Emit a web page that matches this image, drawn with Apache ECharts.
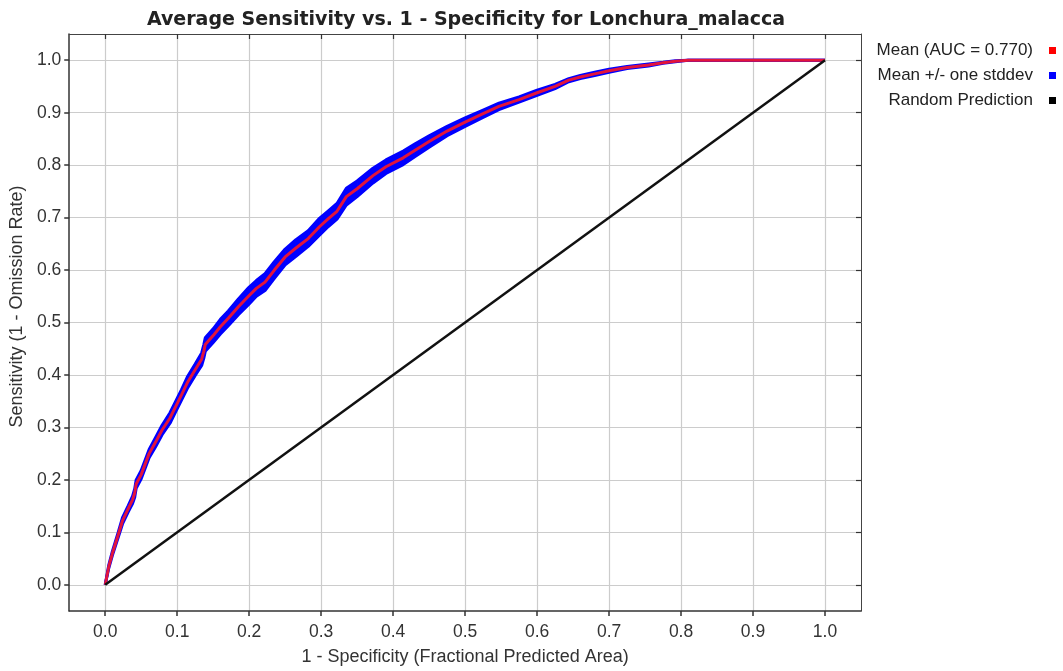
<!DOCTYPE html>
<html>
<head>
<meta charset="utf-8">
<script src="https://cdn.jsdelivr.net/npm/echarts@6/dist/echarts.min.js"></script>
<style>
  html, body { margin: 0; padding: 0; background: #ffffff; }
  #chart { width: 1063px; height: 671px; }
</style>
</head>
<body>
<div id="chart"></div>
<script>
// False positive rate (1 - specificity) sampled along the averaged ROC curve
const fpr = [0, 0.005, 0.010, 0.018, 0.024, 0.032, 0.038, 0.041, 0.043, 0.05,
  0.061, 0.07, 0.079, 0.09, 0.098, 0.106, 0.114, 0.125, 0.134, 0.137,
  0.139, 0.15, 0.16, 0.171, 0.185, 0.199, 0.21, 0.222, 0.235, 0.25,
  0.265, 0.282, 0.298, 0.31, 0.322, 0.335, 0.35, 0.372, 0.39, 0.414,
  0.43, 0.45, 0.475, 0.5, 0.525, 0.547, 0.575, 0.6, 0.625, 0.644,
  0.66, 0.68, 0.7, 0.725, 0.755, 0.775, 0.792, 0.81, 0.85, 0.9, 0.95, 1.0];

// Mean sensitivity (1 - omission rate) at each fpr value
const meanSens = [0, 0.035, 0.06, 0.095, 0.122, 0.145, 0.162, 0.175, 0.192, 0.21,
  0.25, 0.272, 0.295, 0.318, 0.34, 0.362, 0.385, 0.41, 0.43, 0.445,
  0.458, 0.475, 0.492, 0.508, 0.53, 0.55, 0.565, 0.577, 0.6, 0.625,
  0.642, 0.66, 0.683, 0.698, 0.712, 0.74, 0.755, 0.78, 0.797, 0.814,
  0.828, 0.845, 0.865, 0.882, 0.898, 0.912, 0.925, 0.938, 0.95, 0.962,
  0.968, 0.974, 0.98, 0.986, 0.991, 0.995, 0.998, 1.0, 1.0, 1.0, 1.0, 1.0];

// One standard deviation of sensitivity across replicates
const stdDev = [0, 0.003, 0.004, 0.005, 0.006, 0.006, 0.007, 0.008, 0.008, 0.008,
  0.008, 0.009, 0.009, 0.010, 0.010, 0.010, 0.011, 0.011, 0.012, 0.013,
  0.013, 0.013, 0.014, 0.014, 0.015, 0.016, 0.015, 0.016, 0.016, 0.015,
  0.016, 0.015, 0.016, 0.015, 0.015, 0.016, 0.015, 0.014, 0.013, 0.013,
  0.012, 0.011, 0.009, 0.008, 0.007, 0.006, 0.005, 0.005, 0.004, 0.003,
  0.003, 0.003, 0.003, 0.002, 0.002, 0.001, 0.001, 0, 0, 0, 0, 0];

// Random prediction reference line
const randomX = [0, 1];
const randomY = [0, 1];

// Tick positions and their labels, shared by both axes
const tickValues = [0, 0.1, 0.2, 0.3, 0.4, 0.5, 0.6, 0.7, 0.8, 0.9, 1.0];
const tickLabels = ['0.0', '0.1', '0.2', '0.3', '0.4', '0.5', '0.6', '0.7', '0.8', '0.9', '1.0'];

const NAME_MEAN = 'Mean (AUC = 0.770)';
const NAME_SD = 'Mean +/- one stddev';
const NAME_RANDOM = 'Random Prediction';

const upperLine = fpr.map((x, i) => [x, meanSens[i] + stdDev[i]]);
const lowerLine = fpr.map((x, i) => [x, meanSens[i] - stdDev[i]]);
const meanLine = fpr.map((x, i) => [x, meanSens[i]]);
const randomLine = randomX.map((x, i) => [x, randomY[i]]);

// Each band segment joins sample i and i+1: [x0, lo0, hi0, x1, lo1, hi1]
const bandSegments = [];
for (let i = 0; i < fpr.length - 1; i++) {
  bandSegments.push([fpr[i], lowerLine[i][1], upperLine[i][1],
                     fpr[i + 1], lowerLine[i + 1][1], upperLine[i + 1][1]]);
}

const FONT = "'Liberation Sans', Arial, sans-serif";
const SQUARE = 'path://M0,0 M11,0 L18,0 L18,7 L11,7 Z';

function tickFormatter(v) {
  const k = tickValues.findIndex(t => Math.abs(t - v) < 1e-6);
  return k < 0 ? '' : tickLabels[k];
}

const axisCommon = { type: 'value', min: -0.05, max: 1.05, interval: 0.05 };

const chart = echarts.init(document.getElementById('chart'), null, { renderer: 'canvas' });

chart.setOption({
  animation: false,
  backgroundColor: '#ffffff',
  title: {
    text: 'Average Sensitivity vs. 1 - Specificity for Lonchura_malacca',
    left: 461,
    top: 6,
    textAlign: 'center',
    textStyle: {
      fontFamily: "'DejaVu Sans', sans-serif",
      fontWeight: 'bold',
      fontSize: 19,
      color: '#222222'
    }
  },
  legend: {
    orient: 'vertical',
    align: 'right',
    right: 2,
    top: 37,
    itemWidth: 18,
    itemHeight: 7,
    itemGap: 8,
    selectedMode: false,
    textStyle: { fontFamily: FONT, fontSize: 17, color: '#222222', lineHeight: 17 },
    data: [
      { name: NAME_MEAN, icon: SQUARE, itemStyle: { color: '#ff0000' } },
      { name: NAME_SD, icon: SQUARE, itemStyle: { color: '#0000ff' } },
      { name: NAME_RANDOM, icon: SQUARE, itemStyle: { color: '#000000' } }
    ]
  },
  grid: { left: 65, right: 202, top: 34, bottom: 60, containLabel: false },
  xAxis: [
    Object.assign({}, axisCommon, {
      position: 'bottom',
      name: '1 - Specificity (Fractional Predicted Area)',
      nameLocation: 'middle',
      nameGap: 37,
      nameTextStyle: { fontFamily: FONT, fontSize: 18, color: '#333333' },
      axisLine: { show: true, onZero: false, lineStyle: { color: '#333333', width: 1.5 } },
      axisTick: { show: true, inside: false, length: 5, customValues: tickValues,
        lineStyle: { color: '#333333', width: 1.5 } },
      axisLabel: { margin: 12, fontFamily: FONT, fontSize: 17.5, color: '#333333',
        formatter: tickFormatter, customValues: tickValues },
      splitLine: { show: true, customValues: tickValues,
        lineStyle: { color: '#cccccc', width: 1.2 } }
    }),
    Object.assign({}, axisCommon, {
      position: 'top',
      axisLine: { show: true, onZero: false, lineStyle: { color: '#444444', width: 1 } },
      axisTick: { show: true, inside: true, length: 5, customValues: tickValues,
        lineStyle: { color: '#333333', width: 1.2 } },
      axisLabel: { show: false },
      splitLine: { show: false }
    })
  ],
  yAxis: [
    Object.assign({}, axisCommon, {
      position: 'left',
      name: 'Sensitivity (1 - Omission Rate)',
      nameLocation: 'middle',
      nameGap: 36,
      nameTextStyle: { fontFamily: FONT, fontSize: 18, color: '#333333', padding: [0, 0, 0, 32] },
      axisLine: { show: true, onZero: false, lineStyle: { color: '#333333', width: 1.5 } },
      axisTick: { show: true, inside: false, length: 5, customValues: tickValues,
        lineStyle: { color: '#333333', width: 1.5 } },
      axisLabel: { margin: 8, fontFamily: FONT, fontSize: 17.5, color: '#333333',
        formatter: tickFormatter, customValues: tickValues },
      splitLine: { show: true, customValues: tickValues,
        lineStyle: { color: '#cccccc', width: 1.2 } }
    }),
    Object.assign({}, axisCommon, {
      position: 'right',
      axisLine: { show: true, onZero: false, lineStyle: { color: '#444444', width: 1 } },
      axisTick: { show: true, inside: true, length: 5, customValues: tickValues,
        lineStyle: { color: '#333333', width: 1.2 } },
      axisLabel: { show: false },
      splitLine: { show: false }
    })
  ],
  series: [
    {
      // filled region between mean - stddev and mean + stddev
      name: NAME_SD,
      type: 'custom',
      xAxisIndex: 0, yAxisIndex: 0,
      data: bandSegments,
      encode: { x: [0, 3], y: [1, 2, 4, 5] },
      color: '#0000ff',
      z: 2,
      renderItem: function (params, api) {
        const p0hi = api.coord([api.value(0), api.value(2)]);
        const p1hi = api.coord([api.value(3), api.value(5)]);
        const p1lo = api.coord([api.value(3), api.value(4)]);
        const p0lo = api.coord([api.value(0), api.value(1)]);
        return {
          type: 'polygon',
          shape: { points: [p0hi, p1hi, p1lo, p0lo] },
          style: { fill: '#0000ff', stroke: '#0000ff', lineWidth: 1 }
        };
      }
    },
    {
      name: NAME_SD,
      type: 'line',
      xAxisIndex: 0, yAxisIndex: 0,
      data: upperLine,
      symbol: 'none',
      color: '#0000ff',
      lineStyle: { color: '#0000ff', width: 3 },
      z: 2
    },
    {
      name: NAME_SD,
      type: 'line',
      xAxisIndex: 0, yAxisIndex: 0,
      data: lowerLine,
      symbol: 'none',
      color: '#0000ff',
      lineStyle: { color: '#0000ff', width: 3 },
      z: 2
    },
    {
      name: NAME_MEAN,
      type: 'line',
      xAxisIndex: 0, yAxisIndex: 0,
      data: meanLine,
      symbol: 'none',
      color: '#ff0000',
      lineStyle: { color: '#e2143c', width: 3 },
      z: 3
    },
    {
      name: NAME_RANDOM,
      type: 'line',
      xAxisIndex: 0, yAxisIndex: 0,
      data: randomLine,
      symbol: 'none',
      color: '#000000',
      lineStyle: { color: '#111111', width: 2.5 },
      z: 4
    }
  ]
});
</script>
</body>
</html>
